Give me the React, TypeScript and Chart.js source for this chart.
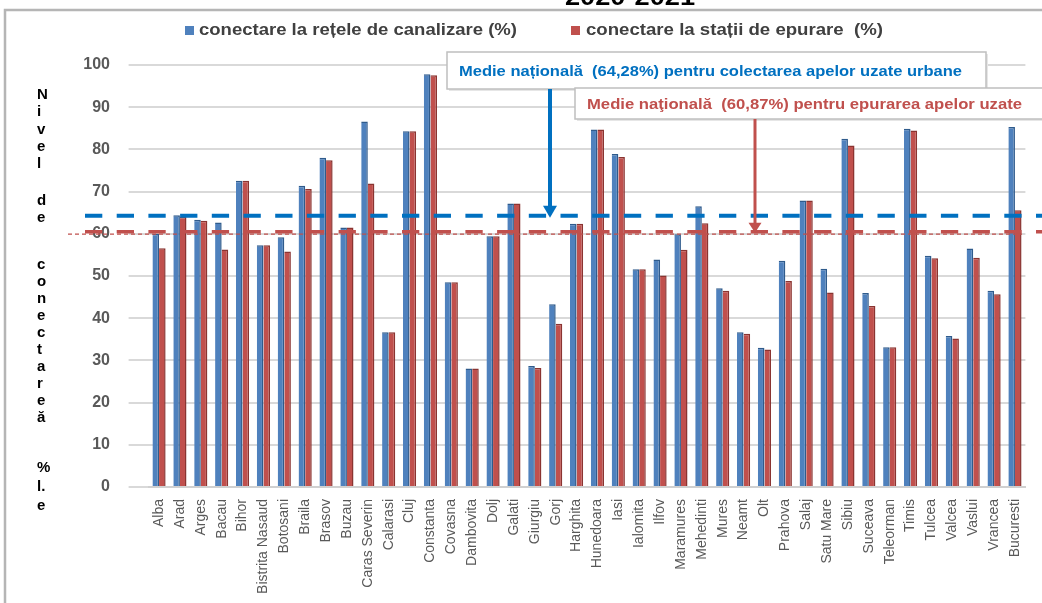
import React, { useEffect, useRef } from "react";
import { Chart, registerables } from "chart.js";

Chart.register(...registerables);

const categories = [
  "Alba", "Arad", "Arges", "Bacau", "Bihor", "Bistrita Nasaud", "Botosani", "Braila", "Brasov", "Buzau",
  "Caras Severin", "Calarasi", "Cluj", "Constanta", "Covasna", "Dambovita", "Dolj", "Galati", "Giurgiu", "Gorj",
  "Harghita", "Hunedoara", "Iasi", "Ialomita", "Ilfov", "Maramures", "Mehedinti", "Mures", "Neamt", "Olt",
  "Prahova", "Salaj", "Satu Mare", "Sibiu", "Suceava", "Teleorman", "Timis", "Tulcea", "Valcea", "Vaslui",
  "Vrancea", "Bucuresti",
];

const canalizare = [
  60.0, 64.4, 63.3, 62.7, 72.6, 57.3, 59.2, 71.4, 78.0, 61.5,
  86.6, 36.7, 84.3, 97.8, 48.5, 28.1, 59.4, 67.2, 28.7, 43.3,
  62.4, 84.7, 78.9, 51.6, 53.9, 59.9, 66.5, 47.1, 36.7, 33.0,
  53.6, 67.9, 51.7, 82.5, 46.0, 33.1, 84.9, 54.8, 35.8, 56.5,
  46.5, 85.3,
];

const epurare = [
  56.6, 64.0, 63.1, 56.3, 72.6, 57.3, 55.8, 70.6, 77.4, 61.5,
  71.9, 36.7, 84.3, 97.6, 48.5, 28.1, 59.4, 67.2, 28.2, 38.7,
  62.4, 84.7, 78.2, 51.6, 50.1, 56.2, 62.5, 46.5, 36.3, 32.6,
  48.8, 67.9, 46.1, 80.9, 42.9, 33.1, 84.5, 54.2, 35.2, 54.3,
  45.7, 65.6,
];

const seriesNames = ["conectare la rețele de canalizare (%)", "conectare la stații de epurare  (%)"];
const nationalAverages = [64.28, 60.87];
const annotationTexts = [
  "Medie națională  (64,28%) pentru colectarea apelor uzate urbane",
  "Medie naţională  (60,87%) pentru epurarea apelor uzate",
];
const yTickValues = [0, 10, 20, 30, 40, 50, 60, 70, 80, 90, 100];
const titleText = "2020-2021";
const yTitleLines: [string, number][] = [
  ["N", 95], ["i", 112], ["v", 130], ["e", 147], ["l", 164],
  ["d", 201], ["e", 218],
  ["c", 265], ["o", 282], ["n", 299], ["e", 316], ["c", 333], ["t", 350], ["a", 367], ["r", 384], ["e", 401], ["ă", 418],
  ["%", 468], ["l.", 487], ["e", 506],
];

const BLUE = "#4F81BD";
const RED = "#C0504D";
const LINE_BLUE = "#0070C0";
const FONT = "'Liberation Sans', Arial, sans-serif";

function stretchText(ctx: CanvasRenderingContext2D, text: string, x: number, y: number, targetW: number) {
  const w = ctx.measureText(text).width;
  const sx = targetW / w;
  ctx.save();
  ctx.translate(x, y);
  ctx.scale(sx, 1);
  ctx.textAlign = "left";
  ctx.fillText(text, 0, 0);
  ctx.restore();
}

function arrow(ctx: CanvasRenderingContext2D, x: number, y0: number, y1: number, color: string, w: number, headW: number, headH: number) {
  ctx.save();
  ctx.strokeStyle = color;
  ctx.fillStyle = color;
  ctx.lineWidth = w;
  ctx.setLineDash([]);
  ctx.beginPath();
  ctx.moveTo(x, y0);
  ctx.lineTo(x, y1 - headH + 1);
  ctx.stroke();
  ctx.beginPath();
  ctx.moveTo(x - headW / 2, y1 - headH);
  ctx.lineTo(x + headW / 2, y1 - headH);
  ctx.lineTo(x, y1);
  ctx.closePath();
  ctx.fill();
  ctx.restore();
}

function box(ctx: CanvasRenderingContext2D, x: number, y: number, w: number, h: number, text: string, color: string, textW: number) {
  ctx.save();
  ctx.fillStyle = "#E6E6E6";
  ctx.fillRect(x + 2, y + 2, w, h);
  ctx.fillStyle = "#FFFFFF";
  ctx.fillRect(x, y, w, h);
  ctx.strokeStyle = "#BFBFBF";
  ctx.lineWidth = 1.5;
  ctx.strokeRect(x, y, w, h);
  ctx.fillStyle = color;
  ctx.font = `bold 15px ${FONT}`;
  ctx.textBaseline = "middle";
  stretchText(ctx, text, x + 12, y + h / 2 + 1, textW);
  ctx.restore();
}

const overlay = {
  id: "overlay",
  beforeDraw(chart: any) {
    const ctx = chart.ctx as CanvasRenderingContext2D;
    ctx.save();
    ctx.fillStyle = "#FFFFFF";
    ctx.fillRect(0, 0, chart.width, chart.height);
    ctx.strokeStyle = "#B5B5B5";
    ctx.lineWidth = 2.5;
    ctx.strokeRect(5, 10, 1200, 800);
    ctx.fillStyle = "#000000";
    ctx.font = `bold 24px ${FONT}`;
    ctx.textBaseline = "alphabetic";
    stretchText(ctx, titleText, 565, 5, 130);
    ctx.restore();
  },
  afterDatasetsDraw(chart: any) {
    const ctx = chart.ctx as CanvasRenderingContext2D;
    const y = chart.scales.y;
    const yb = y.getPixelForValue(nationalAverages[0]);
    const yr = y.getPixelForValue(nationalAverages[1]) + 1.5;
    ctx.save();
    ctx.lineCap = "butt";
    ctx.strokeStyle = RED;
    ctx.lineWidth = 1.3;
    ctx.setLineDash([4, 3]);
    ctx.beginPath();
    ctx.moveTo(68, yr + 2.5);
    ctx.lineTo(1022, yr + 2.5);
    ctx.stroke();
    ctx.lineWidth = 3.5;
    ctx.setLineDash([17.3, 14.4]);
    ctx.beginPath();
    ctx.moveTo(85, yr);
    ctx.lineTo(1042, yr);
    ctx.stroke();
    ctx.strokeStyle = LINE_BLUE;
    ctx.lineWidth = 4;
    ctx.beginPath();
    ctx.moveTo(85, yb);
    ctx.lineTo(1042, yb);
    ctx.stroke();
    ctx.restore();
  },
  afterDraw(chart: any) {
    const ctx = chart.ctx as CanvasRenderingContext2D;
    const y = chart.scales.y;
    const yb = y.getPixelForValue(nationalAverages[0]);
    const yr = y.getPixelForValue(nationalAverages[1]) + 1.5;
    ctx.save();
    ctx.font = `bold 16px ${FONT}`;
    ctx.textBaseline = "middle";
    ctx.fillStyle = BLUE;
    ctx.fillRect(185, 26, 9, 9);
    ctx.fillStyle = "#404040";
    stretchText(ctx, seriesNames[0], 199, 31, 318);
    ctx.fillStyle = RED;
    ctx.fillRect(571, 26, 9, 9);
    ctx.fillStyle = "#404040";
    stretchText(ctx, seriesNames[1], 586, 31, 297);
    ctx.fillStyle = "#000000";
    ctx.font = `bold 15px ${FONT}`;
    ctx.textAlign = "left";
    for (const [ch, py] of yTitleLines) ctx.fillText(ch, 37, py);
    ctx.restore();
    box(ctx, 447, 52, 539, 37, annotationTexts[0], LINE_BLUE, 503);
    arrow(ctx, 550, 89, yb + 2, LINE_BLUE, 4, 14, 12);
    box(ctx, 575, 88, 500, 31, annotationTexts[1], RED, 435);
    arrow(ctx, 755, 119, yr + 1, RED, 3, 13, 10);
  },
};

export default function App() {
  const ref = useRef<HTMLCanvasElement | null>(null);
  useEffect(() => {
    if (!ref.current) return;
    const chart = new Chart(ref.current, {
      type: "bar",
      data: {
        labels: categories,
        datasets: [
          {
            label: seriesNames[0],
            data: canalizare,
            backgroundColor: BLUE,
            borderColor: "#2F5B8C",
            borderWidth: { top: 1.5, right: 1.5, bottom: 0, left: 0 } as any,
            borderSkipped: false,
          },
          {
            label: seriesNames[1],
            data: epurare,
            backgroundColor: RED,
            borderColor: "#8A3431",
            borderWidth: { top: 1.5, right: 1.5, bottom: 0, left: 0 } as any,
            borderSkipped: false,
          },
        ],
      },
      options: {
        responsive: false,
        animation: false,
        maintainAspectRatio: false,
        layout: { padding: { left: 0, top: 65, right: 16.6, bottom: 0 } },
        datasets: { bar: { categoryPercentage: 0.63, barPercentage: 1 } },
        plugins: { legend: { display: false }, tooltip: { enabled: false }, title: { display: false } },
        scales: {
          x: {
            grid: { display: false },
            border: { display: true, color: "#D0D0D0", width: 2 },
            ticks: {
              autoSkip: false,
              minRotation: 90,
              maxRotation: 90,
              padding: 4,
              color: "#595959",
              font: { family: FONT, size: 14 },
            },
            afterFit: (s: any) => { s.height = 116; },
          },
          y: {
            min: 0,
            max: 100,
            afterBuildTicks: (s: any) => { s.ticks = yTickValues.map((v) => ({ value: v })); },
            grid: { color: "#D9D9D9", lineWidth: 2, tickLength: 20, tickColor: "#D9D9D9" },
            border: { display: false },
            ticks: {
              padding: 18.6,
              color: "#595959",
              font: { family: FONT, size: 16, weight: "bold" },
            },
            afterFit: (s: any) => { s.width = 148.6; },
          },
        },
      },
      plugins: [overlay],
    });
    return () => chart.destroy();
  }, []);
  return (
    <div style={{ position: "absolute", left: 0, top: 0, width: 1042, height: 603 }}>
      <canvas ref={ref} width={1042} height={603} style={{ display: "block" }} />
    </div>
  );
}
